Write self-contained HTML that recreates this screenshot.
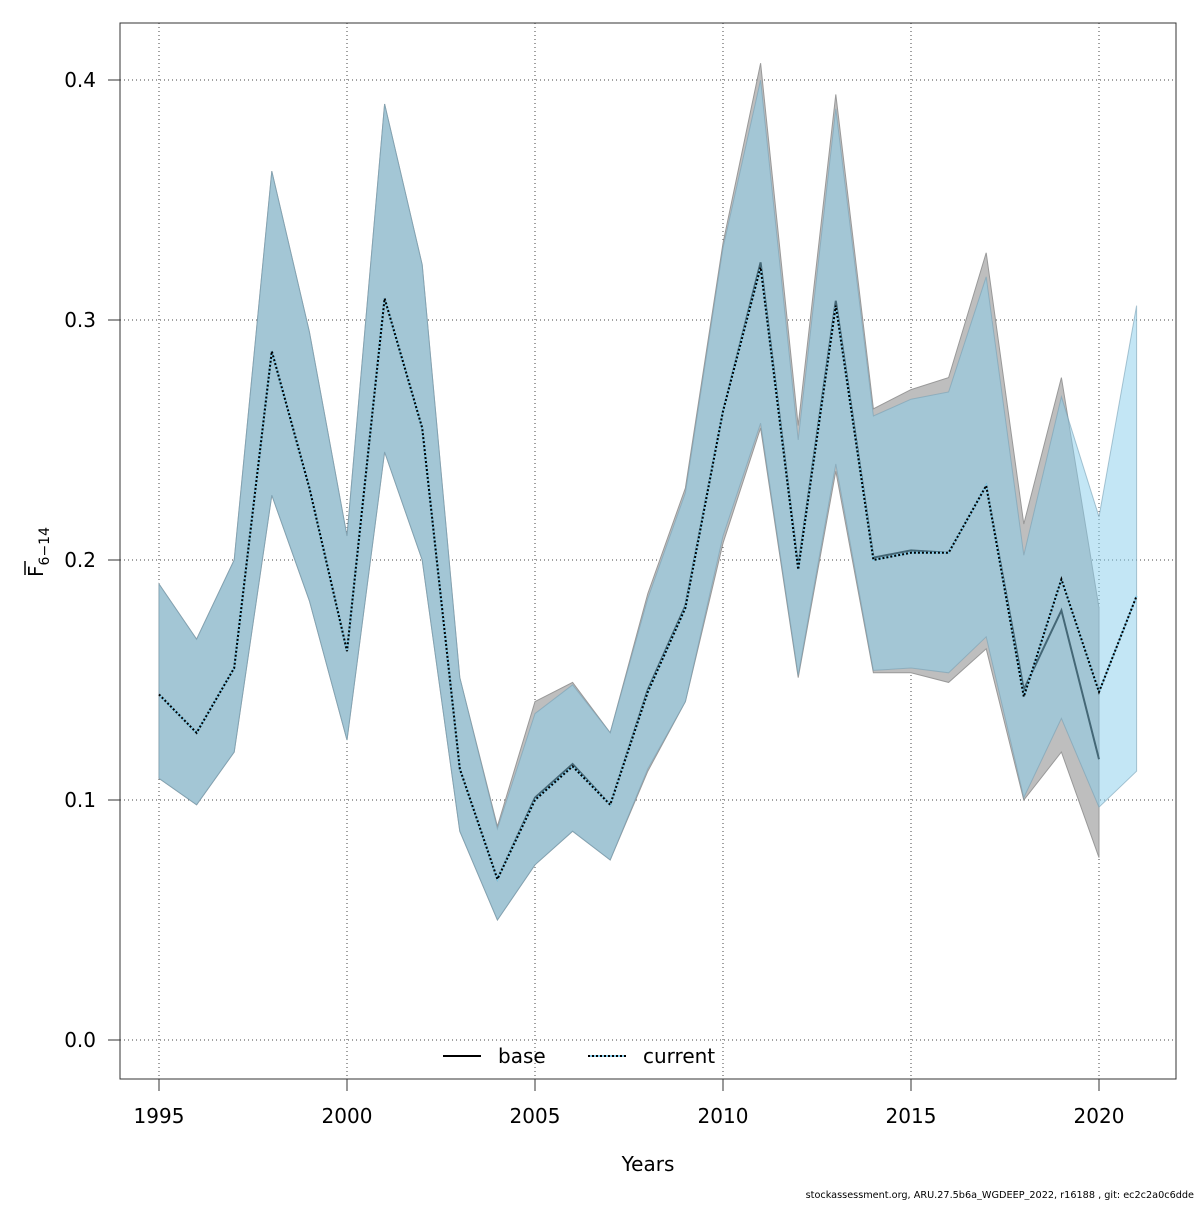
<!DOCTYPE html>
<html><head><meta charset="utf-8"><style>
body{margin:0;background:#fff}
svg text{font-family:"DejaVu Sans","Liberation Sans",sans-serif}
</style></head><body>
<svg id="chart" width="1200" height="1200" viewBox="0 0 1200 1200">
<rect width="1200" height="1200" fill="#fff"/>
<g id="grid"></g>
<g id="bands"></g>
<g id="lines"></g>
<g id="axes"></g>
<rect x="120" y="23" width="1056" height="1056" fill="none" stroke="#333" stroke-width="1"/>
<text x="648" y="1171" font-size="20" text-anchor="middle">Years</text>
<g transform="translate(43,552) rotate(-90)">
<text x="0" y="0" font-size="20" text-anchor="middle">F<tspan font-size="14" dy="6">6−14</tspan></text>
<line x1="-23" y1="-18" x2="-9" y2="-18" stroke="#000" stroke-width="1.5"/>
</g>
<g>
<line x1="443" y1="1056" x2="481" y2="1056" stroke="#000" stroke-width="2"/>
<text x="498" y="1063" font-size="20">base</text>
<line x1="588" y1="1056" x2="626" y2="1056" stroke="#87ceeb" stroke-width="2"/>
<line x1="588" y1="1056" x2="626" y2="1056" stroke="#000" stroke-width="2" stroke-dasharray="2,2"/>
<text x="643" y="1063" font-size="20">current</text>
</g>
<text x="1194" y="1198" font-size="9.7" text-anchor="end">stockassessment.org, ARU.27.5b6a_WGDEEP_2022, r16188 , git: ec2c2a0c6dde</text>
</svg>
<script>
const yearsBase=[1995,1996,1997,1998,1999,2000,2001,2002,2003,2004,2005,2006,2007,2008,2009,2010,2011,2012,2013,2014,2015,2016,2017,2018,2019,2020];
const baseMean=[0.144,0.128,0.155,0.287,0.23,0.162,0.309,0.255,0.113,0.067,0.101,0.115,0.098,0.146,0.181,0.262,0.324,0.197,0.308,0.201,0.204,0.203,0.231,0.146,0.179,0.117];
const baseUpper=[0.19,0.167,0.2,0.362,0.295,0.21,0.39,0.323,0.151,0.089,0.141,0.149,0.128,0.186,0.23,0.332,0.407,0.256,0.394,0.263,0.271,0.276,0.328,0.215,0.276,0.18];
const baseLower=[0.109,0.098,0.12,0.227,0.183,0.125,0.245,0.2,0.087,0.05,0.073,0.087,0.075,0.112,0.141,0.207,0.255,0.151,0.237,0.153,0.153,0.149,0.163,0.1,0.12,0.076];
const yearsCur=[1995,1996,1997,1998,1999,2000,2001,2002,2003,2004,2005,2006,2007,2008,2009,2010,2011,2012,2013,2014,2015,2016,2017,2018,2019,2020,2021];
const curMean=[0.144,0.128,0.155,0.287,0.23,0.162,0.309,0.255,0.113,0.067,0.1,0.114,0.098,0.145,0.18,0.262,0.322,0.196,0.306,0.2,0.203,0.203,0.231,0.143,0.192,0.145,0.185];
const curUpper=[0.19,0.167,0.2,0.362,0.295,0.21,0.39,0.323,0.151,0.088,0.136,0.148,0.128,0.184,0.228,0.33,0.4,0.25,0.388,0.26,0.267,0.27,0.318,0.202,0.268,0.218,0.306];
const curLower=[0.109,0.098,0.12,0.227,0.183,0.125,0.245,0.2,0.087,0.05,0.073,0.087,0.075,0.113,0.141,0.21,0.257,0.152,0.24,0.154,0.155,0.153,0.168,0.101,0.134,0.097,0.112];
const xTicks=[1995,2000,2005,2010,2015,2020];
const yTicks=[0,0.1,0.2,0.3,0.4];
const yTickLabels=["0.0","0.1","0.2","0.3","0.4"];

const NS="http://www.w3.org/2000/svg";
const X=y=>159+(y-1995)*37.6;
const Y=v=>1040-v*2400;
function mk(tag,attrs,parent){const e=document.createElementNS(NS,tag);for(const k in attrs)e.setAttribute(k,attrs[k]);parent.appendChild(e);return e;}
const grid=document.getElementById('grid'),axes=document.getElementById('axes'),bands=document.getElementById('bands'),lines=document.getElementById('lines');
xTicks.forEach(t=>{
  const g=mk('line',{x1:X(t),x2:X(t),y1:23,y2:1079,stroke:'#444','stroke-dasharray':'1,3'},grid);
  
  
  const tk=mk('line',{x1:X(t),x2:X(t),y1:1079,y2:1091,stroke:'#333'},axes);
  
  
  const tx=mk('text',{x:X(t),y:1123,'font-size':20,'text-anchor':'middle'},axes);tx.textContent=t;
  
  
});
yTicks.forEach((t,i)=>{
  const g=mk('line',{x1:120,x2:1176,y1:Y(t),y2:Y(t),stroke:'#444','stroke-dasharray':'1,3'},grid);
  
  
  const tk=mk('line',{x1:108,x2:120,y1:Y(t),y2:Y(t),stroke:'#333'},axes);
  
  
  const tx=mk('text',{x:96,y:Y(t)+7,'font-size':20,'text-anchor':'end'},axes);tx.textContent=yTickLabels[i];
  
  
});
function poly(yrs,up,lo){return yrs.map((y,i)=>X(y)+','+Y(up[i])).concat(yrs.map((y,i)=>X(y)+','+Y(lo[i])).reverse()).join(' ');}
function pl(yrs,v){return yrs.map((y,i)=>X(y)+','+Y(v[i])).join(' ');}
const bb=mk('polygon',{points:poly(yearsBase,baseUpper,baseLower),fill:'#bebebe',stroke:'#999','stroke-width':1},bands);


const bl=mk('polyline',{points:pl(yearsBase,baseMean),fill:'none',stroke:'#000','stroke-width':2},bands);


const cb=mk('polygon',{points:poly(yearsCur,curUpper,curLower),fill:'rgba(135,206,235,0.5)',stroke:'rgba(120,160,180,0.6)','stroke-width':1},bands);


const cl=mk('polyline',{points:pl(yearsCur,curMean),fill:'none',stroke:'#87ceeb','stroke-width':2},lines);


const cd=mk('polyline',{points:pl(yearsCur,curMean),fill:'none',stroke:'#000','stroke-width':2,'stroke-dasharray':'2,2'},lines);


</script>
</body></html>
